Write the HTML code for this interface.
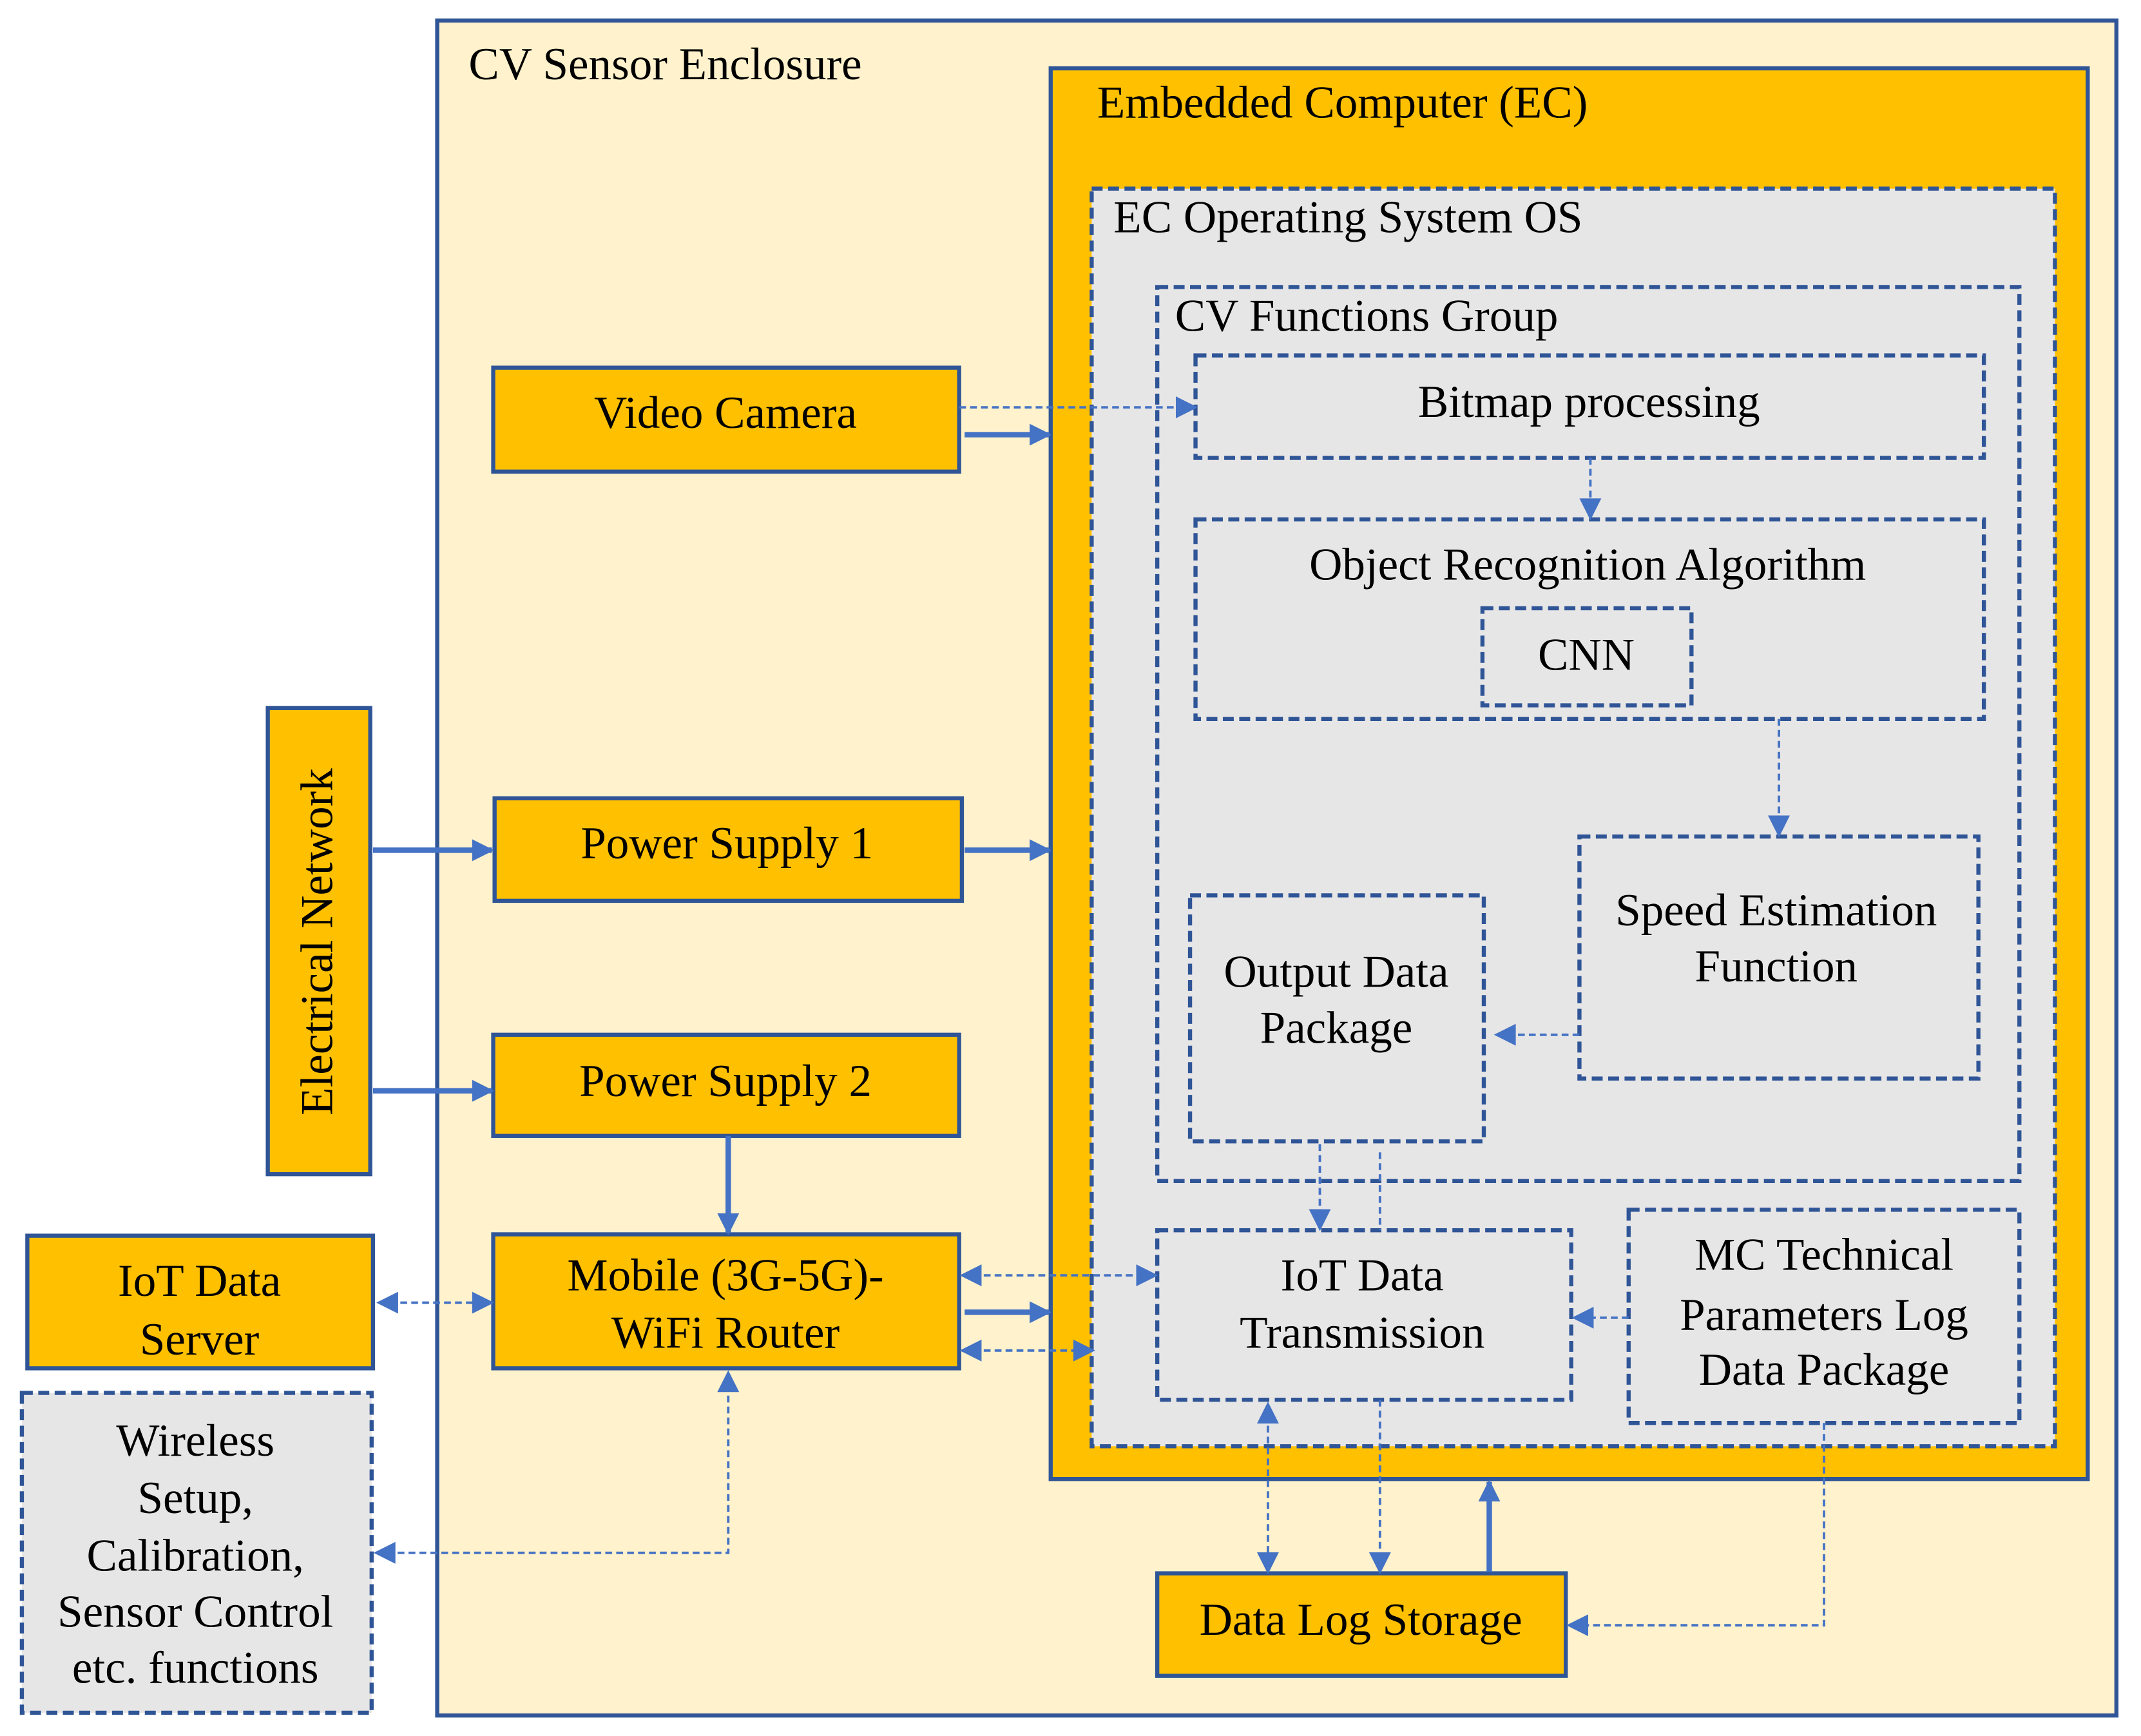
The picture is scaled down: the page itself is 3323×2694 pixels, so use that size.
<!DOCTYPE html>
<html><head><meta charset="utf-8"><style>
html,body{margin:0;padding:0;background:#fff}
svg{display:block}
text{font-family:"Liberation Serif",serif;font-size:33.5px;fill:#000}
</style></head><body>
<svg width="3323" height="2694" viewBox="0 0 1567 1270" preserveAspectRatio="none" xmlns="http://www.w3.org/2000/svg">
<defs>
<marker id="b" viewBox="0 0 10 10" refX="9" refY="5" markerWidth="18" markerHeight="16" orient="auto-start-reverse" markerUnits="userSpaceOnUse"><path d="M0,0L10,5L0,10z" fill="#4472C4"/></marker>
</defs>
<rect x="0" y="0" width="1567" height="1270" fill="#fff"/>
<rect x="320" y="15" width="1229" height="1240" fill="#FFF2CC" stroke="#2F5597" stroke-width="3"/>
<text x="343" y="58">CV Sensor Enclosure</text>
<rect x="769" y="50" width="759" height="1032" fill="#FFC000" stroke="#2F5597" stroke-width="3"/>
<text x="803" y="86">Embedded Computer (EC)</text>
<rect x="799" y="138" width="705" height="920" fill="#E7E6E6" stroke="#2F5597" stroke-width="3" stroke-dasharray="8,4"/>
<text x="815" y="170">EC Operating System OS</text>
<rect x="847" y="210" width="631" height="654" fill="#E7E6E6" stroke="#2F5597" stroke-width="3" stroke-dasharray="8,4"/>
<text x="860" y="242">CV Functions Group</text>
<g fill="#E7E6E6" stroke="#2F5597" stroke-width="3" stroke-dasharray="8,4">
<rect x="875" y="260" width="577" height="75"/>
<rect x="875" y="380" width="577" height="146"/>
<rect x="1085" y="445" width="153" height="71"/>
<rect x="1156" y="612" width="292" height="177"/>
<rect x="871" y="655" width="215" height="180"/>
<rect x="847" y="900" width="303" height="124"/>
<rect x="1192" y="885" width="286" height="156"/>
<rect x="16" y="1019" width="256" height="234"/>
</g>
<g fill="#FFC000" stroke="#2F5597" stroke-width="3">
<rect x="847" y="1151" width="299" height="75"/>
<rect x="361" y="269" width="341" height="76"/>
<rect x="362" y="584" width="342" height="75"/>
<rect x="361" y="757" width="341" height="74"/>
<rect x="361" y="903" width="341" height="98"/>
<rect x="196" y="518" width="75" height="341"/>
<rect x="20" y="904" width="253" height="97"/>
</g>
<g text-anchor="middle">
<text x="1163" y="305">Bitmap processing</text>
<text x="1162" y="424">Object Recognition Algorithm</text>
<text x="1161" y="490">CNN</text>
<text x="1300" y="677">Speed Estimation</text>
<text x="1300" y="718">Function</text>
<text x="978" y="722">Output Data</text>
<text x="978" y="763">Package</text>
<text x="997" y="944">IoT Data</text>
<text x="997" y="986">Transmission</text>
<text x="1335" y="929">MC Technical</text>
<text x="1335" y="973">Parameters Log</text>
<text x="1335" y="1013">Data Package</text>
<text x="996" y="1196">Data Log Storage</text>
<text x="531" y="313">Video Camera</text>
<text x="532" y="628">Power Supply 1</text>
<text x="531" y="802">Power Supply 2</text>
<text x="531" y="944">Mobile (3G-5G)-</text>
<text x="531" y="986">WiFi Router</text>
<text x="146" y="948">IoT Data</text>
<text x="146" y="991">Server</text>
<text x="143" y="1065">Wireless</text>
<text x="143" y="1107">Setup,</text>
<text x="143" y="1149">Calibration,</text>
<text x="143" y="1190">Sensor Control</text>
<text x="143" y="1231">etc. functions</text>
<text transform="translate(243,689) rotate(-90)">Electrical Network</text>
</g>
<g stroke="#4472C4" stroke-width="4" fill="none" marker-end="url(#b)">
<path d="M706,318H768"/>
<path d="M706,622H768"/>
<path d="M273,622H360"/>
<path d="M273,798H360"/>
<path d="M533,831V902"/>
<path d="M706,960H768"/>
<path d="M1090,1150V1084"/>
</g>
<g stroke="#4472C4" stroke-width="1.8" fill="none" stroke-dasharray="5,3">
<path d="M702,298H875" marker-end="url(#b)"/>
<path d="M277,953H360" marker-start="url(#b)" marker-end="url(#b)"/>
<path d="M704,933H846" marker-start="url(#b)" marker-end="url(#b)"/>
<path d="M704,988H800" marker-start="url(#b)" marker-end="url(#b)"/>
<path d="M275,1136H533V1004" marker-start="url(#b)" marker-end="url(#b)"/>
<path d="M1164,335V379" marker-end="url(#b)"/>
<path d="M1302,526V611" marker-end="url(#b)"/>
<path d="M1156,757H1095" marker-end="url(#b)"/>
<path d="M966,837V899" marker-end="url(#b)"/>
<path d="M1010,843V900"/>
<path d="M1192,964H1152" marker-end="url(#b)"/>
<path d="M928,1027V1150" marker-start="url(#b)" marker-end="url(#b)"/>
<path d="M1010,1024V1150" marker-end="url(#b)"/>
<path d="M1335,1041V1189H1148" marker-end="url(#b)"/>
</g>
</svg>
</body></html>
